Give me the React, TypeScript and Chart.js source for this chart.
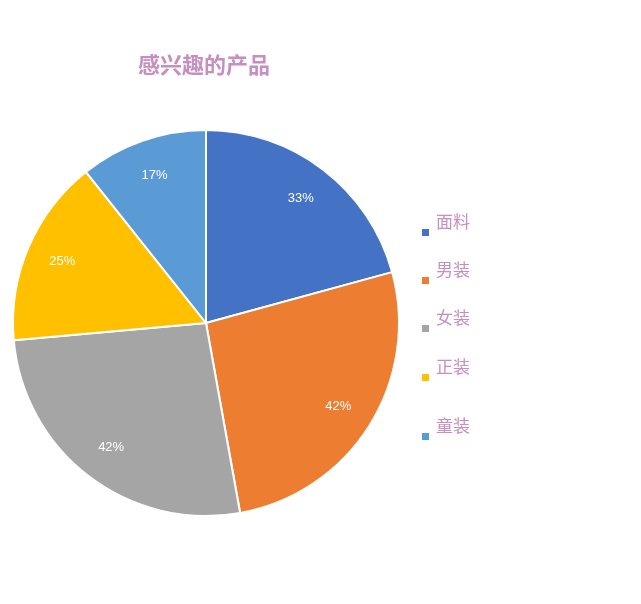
import React, { useEffect, useRef } from "react";
import { Chart, registerables } from "chart.js";

Chart.register(...registerables);

const categories = ["面料", "男装", "女装", "正装", "童装"];
const values = [33, 42, 42, 25, 17];
const colors = ["#4472c4", "#ed7d31", "#a5a5a5", "#ffc000", "#5b9bd5"];
const titleText = "感兴趣的产品";
const legendY = [222, 270, 318, 367, 426];

const pinkText = "#c78fbf";

const overlayPlugin = {
  id: "overlay",
  afterDatasetsDraw(chart: any) {
    const ctx = chart.ctx;
    const meta = chart.getDatasetMeta(0);
    ctx.save();
    // data labels
    ctx.fillStyle = "#ffffff";
    ctx.font = "13px 'Liberation Sans Narrow', 'Liberation Sans', Arial, sans-serif";
    ctx.textAlign = "center";
    ctx.textBaseline = "middle";
    meta.data.forEach((arc: any, i: number) => {
      const p = arc.getProps(["x", "y", "startAngle", "endAngle", "outerRadius"], true);
      const mid = (p.startAngle + p.endAngle) / 2;
      const r = p.outerRadius * 0.81;
      ctx.fillText(values[i] + "%", p.x + Math.cos(mid) * r, p.y + Math.sin(mid) * r);
    });
    // title
    ctx.fillStyle = pinkText;
    ctx.font = "bold 22px 'Noto Sans CJK SC', sans-serif";
    ctx.fillText(titleText, 204, 65);
    // legend
    ctx.textAlign = "left";
    ctx.font = "17px 'Noto Sans CJK SC', sans-serif";
    categories.forEach((c, i) => {
      const y = legendY[i];
      ctx.fillStyle = colors[i];
      ctx.fillRect(422, y + 7, 7, 7);
      ctx.fillStyle = pinkText;
      ctx.fillText(c, 436, y);
    });
    ctx.restore();
  },
};

export default function App() {
  const ref = useRef<HTMLCanvasElement>(null);
  useEffect(() => {
    const chart = new Chart(ref.current!, {
      type: "pie",
      data: {
        labels: categories,
        datasets: [
          {
            data: values,
            backgroundColor: colors,
            borderColor: "#ffffff",
            borderWidth: 2,
          },
        ],
      },
      options: {
        animation: false,
        responsive: false,
        layout: { padding: { left: 12, top: 129, right: 241, bottom: 87 } },
        plugins: {
          legend: { display: false },
          tooltip: { enabled: false },
          title: { display: false },
        },
      },
      plugins: [overlayPlugin],
    });
    return () => chart.destroy();
  }, []);
  return (
    <div style={{ position: "absolute", left: 0, top: 0, width: 641, height: 604, background: "#fff" }}>
      <canvas ref={ref} width={641} height={604} style={{ width: 641, height: 604 }} />
    </div>
  );
}
